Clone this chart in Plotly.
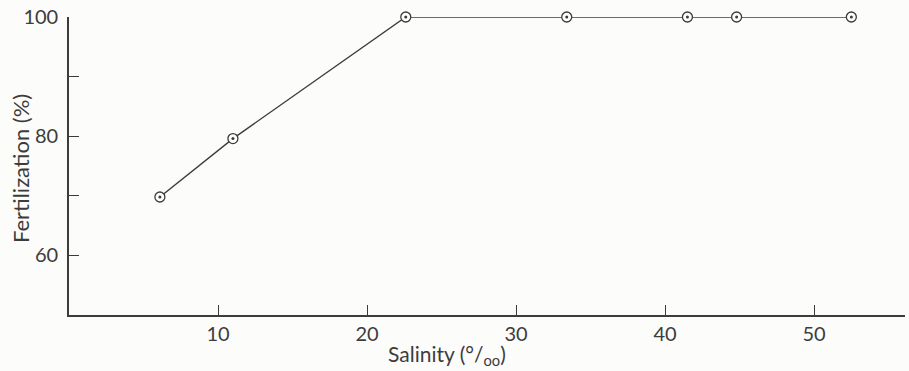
import plotly.graph_objects as go

salinity = [6.1, 11.0, 22.6, 33.4, 41.5, 44.8, 52.5]
fertilization = [69.8, 79.6, 100.0, 100.0, 100.0, 100.0, 100.0]

x_ticks = [10, 20, 30, 40, 50]
y_ticks = [60, 80, 100]
y_minor_ticks = [70, 90]

ink = "#3c3c3c"
font_family = "Lato, 'Open Sans', sans-serif"

fig = go.Figure()
fig.add_trace(go.Scatter(
    x=salinity, y=fertilization, mode="lines+markers",
    line=dict(color=ink, width=1.4),
    marker=dict(symbol="circle", size=10, color="white", line=dict(color=ink, width=1.3)),
    cliponaxis=False, showlegend=False,
))
fig.add_trace(go.Scatter(
    x=salinity, y=fertilization, mode="markers",
    marker=dict(symbol="circle", size=3, color=ink),
    cliponaxis=False, showlegend=False,
))

fig.update_layout(
    width=909, height=371,
    margin=dict(l=69, r=4, t=15, b=56),
    paper_bgcolor="#fcfcfb", plot_bgcolor="#fcfcfb",
    font=dict(family=font_family, color=ink, size=20),
    xaxis=dict(
        range=[0, 56.1], showgrid=False, zeroline=False,
        showline=True, linecolor=ink, linewidth=1.6,
        ticks="inside", ticklen=10, tickwidth=1.4, tickcolor=ink,
        tickvals=x_ticks, ticktext=[str(v) for v in x_ticks],
        tickfont=dict(size=20), ticklabelstandoff=0,
    ),
    yaxis=dict(
        range=[50, 100], showgrid=False, zeroline=False,
        showline=True, linecolor=ink, linewidth=1.6,
        ticks="inside", ticklen=10, tickwidth=1.4, tickcolor=ink,
        tickvals=y_ticks, ticktext=[str(v) for v in y_ticks],
        tickfont=dict(size=20), ticklabelstandoff=5,
        minor=dict(tickvals=y_minor_ticks, ticks="inside", ticklen=10,
                   tickwidth=1.4, tickcolor=ink, showgrid=False),
    ),
    annotations=[
        dict(text="Salinity (°/<sub>oo</sub>)", xref="paper", yref="paper",
             x=0.452, y=-0.133, xanchor="center", yanchor="middle",
             showarrow=False, font=dict(size=21, color=ink)),
        dict(text="Fertilization (%)", xref="paper", yref="paper",
             x=-0.0574, y=0.49, xanchor="center", yanchor="middle",
             textangle=-90, showarrow=False, font=dict(size=22, color=ink)),
    ],
)

fig.write_html("out.html")
